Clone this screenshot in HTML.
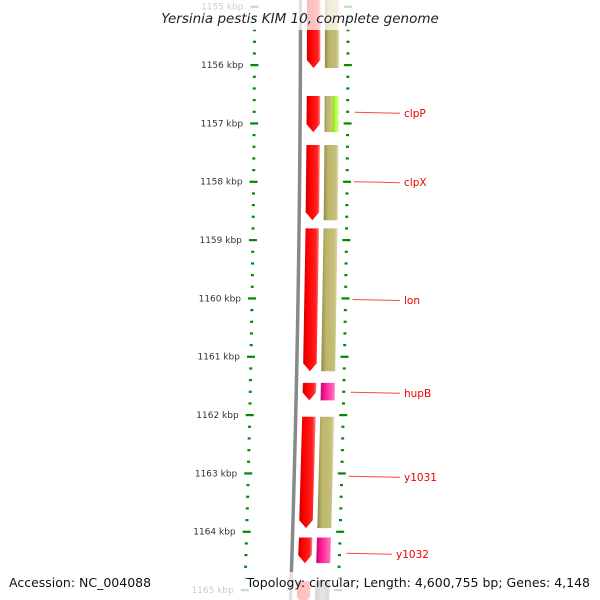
<!DOCTYPE html>
<html><head><meta charset="utf-8"><style>
body{margin:0;background:#fff}
svg{display:block;font-family:"DejaVu Sans","Liberation Sans",sans-serif}
</style></head><body>
<svg id="c" width="600" height="600" xmlns="http://www.w3.org/2000/svg">
<defs>
<linearGradient id="gr" x1="0" x2="1"><stop offset="0" stop-color="#c00"/><stop offset="0.3" stop-color="#f00"/><stop offset="0.8" stop-color="#f22"/><stop offset="1" stop-color="#f88"/></linearGradient>
<linearGradient id="gt" x1="0" x2="1"><stop offset="0" stop-color="#8f8a50"/><stop offset="0.3" stop-color="#bdb76b"/><stop offset="0.8" stop-color="#c4bf7a"/><stop offset="1" stop-color="#e0dcae"/></linearGradient>
<linearGradient id="gp" x1="0" x2="1"><stop offset="0" stop-color="#b0106a"/><stop offset="0.3" stop-color="#ff1493"/><stop offset="1" stop-color="#ff7ac0"/></linearGradient>
<linearGradient id="gl" x1="0" x2="1"><stop offset="0" stop-color="#7fd000"/><stop offset="0.4" stop-color="#adff2f"/><stop offset="1" stop-color="#d8ff90"/></linearGradient>
<linearGradient id="gg" x1="0" x2="1"><stop offset="0" stop-color="#555"/><stop offset="0.5" stop-color="#999"/><stop offset="1" stop-color="#666"/></linearGradient>
</defs>
<g id="plot"></g>
<rect x="150" y="0" width="300" height="30" fill="#fff" opacity="0.75"/>
<rect x="0" y="572" width="600" height="28" fill="#fff" opacity="0.75"/>
<text x="300" y="23" text-anchor="middle" font-size="13.5" font-style="italic" fill="#222">Yersinia pestis KIM 10, complete genome</text>
<text x="9" y="587" font-size="12.5" fill="#111">Accession: NC_004088</text>
<text x="590" y="587" text-anchor="end" font-size="12.5" fill="#111">Topology: circular; Length: 4,600,755 bp; Genes: 4,148</text>
</svg>
<script>
const kbpTicks=[1155,1156,1157,1158,1159,1160,1161,1162,1163,1164,1165];
const geneStart=[1154.8,1156.53,1157.37,1158.8,1161.45,1162.03,1164.1,1164.85];
const geneEnd=[1156.05,1157.15,1158.66,1161.25,1161.75,1163.94,1164.54,1166];
const geneColor=['gt','gt','gt','gt','gp','gt','gp','gg'];
const geneLabel=['','clpP','clpX','lon','hupB','y1031','y1032',''];
const labelKbp=[0,1156.81,1158.0,1160.02,1161.61,1163.05,1164.37,0];
const ns='http://www.w3.org/2000/svg';
const g=document.getElementById('plot');
function Y(k){return 6.7+(k-1155)*58.33;}
function off(y){return -10*Math.pow(y/600,2);}
function mk(t,a){const e=document.createElementNS(ns,t);for(const k in a)e.setAttribute(k,a[k]);g.appendChild(e);return e;}
let d='';for(let y=0;y<=600;y+=10){d+=(y?'L':'M')+(300.5+off(y)*1.0)+' '+y;}
const bb=mk('path',{d:d,stroke:'#888','stroke-width':3.5,fill:'none'});

for(let k=1154.8;k<=1166.01;k+=0.2){
 const y=Y(k);if(y<0||y>600)continue;
 const major=Math.abs(k-Math.round(k))<0.01;
 const xl=254.5+off(y), xr=348+off(y);
 const w=major?8:3;
 const t1=mk('rect',{x:xl-w/2,y:y-1,width:w,height:2.2,fill:'#080'});
 
 const t2=mk('rect',{x:xr-w/2,y:y-1,width:w,height:2.2,fill:'#080'});
 
}
kbpTicks.forEach(k=>{const y=Y(k);
 const t=mk('text',{x:243.5+off(y),y:y+3,'text-anchor':'end','font-size':9,fill:'#333'});
 t.textContent=k+' kbp';
 
});
geneStart.forEach((s,i)=>{
 const y1=Math.max(Y(s),-5),y2=Math.min(Y(geneEnd[i]),605);
 const o1=off(y1),o2=off(y2),tip=Math.min(8,(y2-y1)/2);
 const rx=307,rw=13.5;
 const p=mk('path',{d:`M${rx+o1} ${y1}L${rx+rw+o1} ${y1}L${rx+rw+o2} ${y2-tip}L${rx+rw/2+o2} ${y2}L${rx+o2} ${y2-tip}Z`,fill:'url(#gr)'});
 
 const tx=325,tw=i==1?8:14;
 const q=mk('path',{d:`M${tx+o1} ${y1}L${tx+tw+o1} ${y1}L${tx+tw+o2} ${y2}L${tx+o2} ${y2}Z`,fill:'url(#'+geneColor[i]+')'});
 
 if(i==1){const l=mk('path',{d:`M${333+o1} ${y1}L${339+o1} ${y1}L${339+o2} ${y2}L${333+o2} ${y2}Z`,fill:'url(#gl)'});
  }
 if(geneLabel[i]){const ly=Y(labelKbp[i]),lx=355+off(ly);
  const ex=i==6?392:400;
  const ln=mk('line',{x1:lx,y1:ly,x2:ex,y2:ly+1,stroke:'#f44','stroke-width':1});
  
  const lt=mk('text',{x:ex+4,y:ly+4.5,'font-size':10.5,fill:'#e00'});
  lt.textContent=geneLabel[i];
  }
});
</script>
</body></html>
